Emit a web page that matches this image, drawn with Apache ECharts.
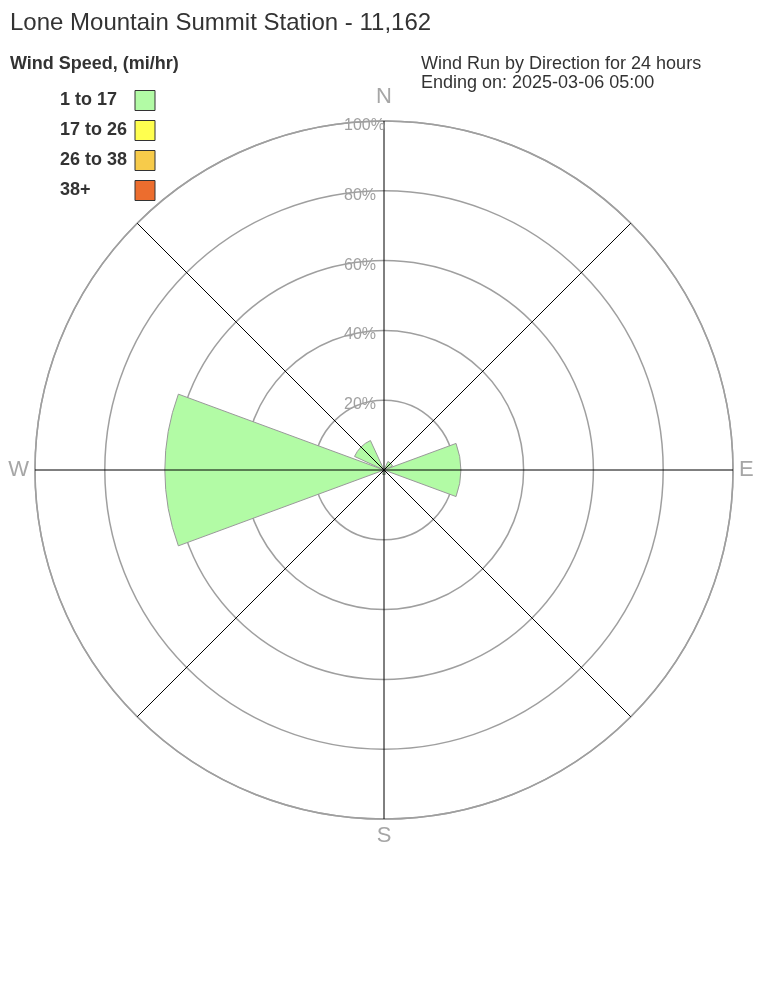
<!DOCTYPE html>
<html>
<head>
<meta charset="utf-8">
<script src="https://cdn.jsdelivr.net/npm/echarts@6/dist/echarts.min.js"></script>
<style>
html,body{margin:0;padding:0;background:#fff;}
#chart{width:768px;height:1008px;}
</style>
</head>
<body>
<div id="chart"></div>
<script>
// ---- data ----
const directions = ['N', 'NE', 'E', 'SE', 'S', 'SW', 'W', 'NW'];
const speedBins = ['1 to 17', '17 to 26', '26 to 38', '38+'];
const speed1to17 = [0, 2.7, 22, 0, 1.3, 0, 62.8, 9.3];
const speed17to26 = [0, 0, 0, 0, 0, 0, 0, 0];
const speed26to38 = [0, 0, 0, 0, 0, 0, 0, 0];
const speed38plus = [0, 0, 0, 0, 0, 0, 0, 0];
const ringTicks = [0, 20, 40, 60, 80, 100];
const compassLabels = ['N', '', 'E', '', 'S', '', 'W', ''];

const binColors = ['#b2fba5', '#ffff4f', '#f7cb4a', '#ec6d2e'];
const seriesValues = [speed1to17, speed17to26, speed26to38, speed38plus];

const chart = echarts.init(document.getElementById('chart'));
const center = [384, 470];
const radius = 349;
const fontFam = '"Liberation Sans", Arial, sans-serif';

const series = speedBins.map((name, i) => ({
  name: name,
  type: 'bar',
  coordinateSystem: 'polar',
  polarIndex: 1,
  stack: 'wind',
  barCategoryGap: '10%',
  data: seriesValues[i].map(v => v === 0 ? '-' : v),
  itemStyle: { color: binColors[i], borderColor: '#999', borderWidth: 1 },
  z: 2
}));

const option = {
  animation: false,
  backgroundColor: '#fff',
  textStyle: { fontFamily: fontFam },
  title: [
    { text: 'Lone Mountain Summit Station - 11,162', left: 5, top: 6,
      textStyle: { fontSize: 24, fontWeight: 'normal', color: '#333', fontFamily: fontFam } },
    { text: 'Wind Speed, (mi/hr)', left: 5, top: 50,
      textStyle: { fontSize: 18, fontWeight: 'bold', color: '#333', fontFamily: fontFam } },
    { text: 'Wind Run by Direction for 24 hours\nEnding on: 2025-03-06 05:00', left: 416, top: 50,
      textStyle: { fontSize: 18, fontWeight: 'normal', color: '#333', lineHeight: 19, fontFamily: fontFam } }
  ],
  legend: {
    orient: 'vertical',
    left: 60,
    top: 90,
    padding: 0,
    align: 'right',
    itemWidth: 20,
    itemHeight: 20,
    itemGap: 9,
    selectedMode: false,
    data: speedBins,
    icon: 'rect',
    itemStyle: { borderColor: '#333', borderWidth: 1 },
    formatter: function (name) { return '{a|' + name + '}'; },
    textStyle: {
      fontSize: 18, fontWeight: 'bold', color: '#333', fontFamily: fontFam,
      rich: { a: { width: 70, align: 'left', fontSize: 18, fontWeight: 'bold', color: '#333', lineHeight: 20, fontFamily: fontFam } }
    }
  },
  polar: [
    { center: center, radius: radius },
    { center: center, radius: radius },
    { center: center, radius: radius }
  ],
  angleAxis: [
    { polarIndex: 0, type: 'value', min: 0, max: 360, interval: 45, startAngle: 90, z: 0,
      axisLine: { show: true, lineStyle: { color: '#9f9f9f', width: 1.5 } },
      axisTick: { show: false }, axisLabel: { show: false }, splitLine: { show: false } },
    { polarIndex: 1, type: 'category', data: directions, startAngle: 112.5, boundaryGap: true,
      axisLine: { show: false }, axisTick: { show: false }, axisLabel: { show: false }, splitLine: { show: false } },
    { polarIndex: 2, type: 'value', min: 0, max: 360, interval: 45, startAngle: 90, z: 5,
      axisLine: { show: false }, axisTick: { show: false },
      splitLine: { show: true, lineStyle: { color: '#000', width: 1 } },
      axisLabel: {
        show: true, margin: 6, color: '#a6a6a6', fontSize: 22, fontFamily: fontFam,
        formatter: function (v) {
          const idx = Math.round(v / 45) % 8;
          const t = compassLabels[idx];
          if (!t) return '';
          return idx === 0 ? '{n|' + t + '}' : t;
        },
        rich: { n: { fontSize: 22, color: '#a6a6a6', padding: [0, 0, 7, 0], fontFamily: fontFam } }
      } }
  ],
  radiusAxis: [
    { polarIndex: 0, min: 0, max: 100, interval: 20, z: 0,
      axisLine: { show: false }, axisTick: { show: false }, axisLabel: { show: false },
      splitLine: { show: true, lineStyle: { color: '#9f9f9f', width: 1.5 } } },
    { polarIndex: 1, min: 0, max: 100, interval: 20,
      axisLine: { show: false }, axisTick: { show: false }, axisLabel: { show: false }, splitLine: { show: false } },
    { polarIndex: 2, min: 0, max: 100, interval: 20, z: 5,
      axisLine: { show: false }, axisTick: { show: false }, splitLine: { show: false },
      axisLabel: {
        show: true, color: '#a0a0a0', fontSize: 16, fontFamily: fontFam, margin: 40,
        align: 'left', verticalAlign: 'middle',
        formatter: function (v) { return v === 0 ? '' : '{r|' + v + '%}'; },
        rich: { r: { color: '#a0a0a0', fontSize: 16, fontFamily: fontFam, padding: [9, 0, 0, 0] } }
      } }
  ],
  series: series
};
chart.setOption(option);
</script>
</body>
</html>
